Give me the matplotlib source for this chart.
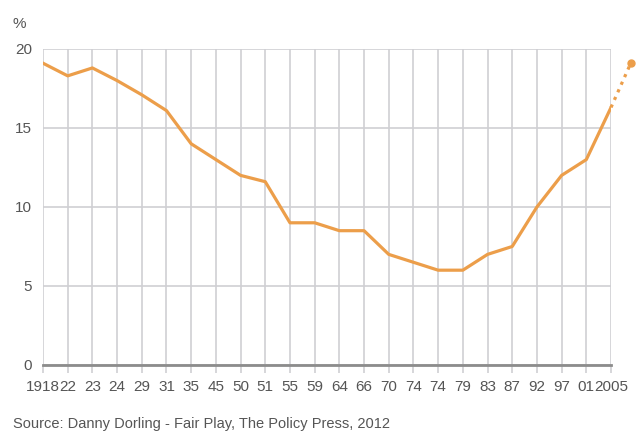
import matplotlib
matplotlib.use("Agg")
import matplotlib.pyplot as plt

plt.rcParams['font.family'] = ['Liberation Sans', 'DejaVu Sans']

years = ["1918", "22", "23", "24", "29", "31", "35", "45", "50", "51", "55", "59",
         "64", "66", "70", "74", "74", "79", "83", "87", "92", "97", "01", "2005"]
share = [19.1, 18.3, 18.8, 18.0, 17.1, 16.1, 14.0, 13.0, 12.0, 11.6, 9.0, 9.0,
         8.5, 8.5, 7.0, 6.5, 6.0, 6.0, 7.0, 7.5, 10.0, 12.0, 13.0, 16.3]
projected_share = 19.1
projection_step = 0.8
y_ticks = [0, 5, 10, 15, 20]
source = "Source: Danny Dorling - Fair Play, The Policy Press, 2012"

line_color = "#EC9E4A"
grid_color = "#CFCFD3"
text_color = "#555555"

fig = plt.figure(figsize=(6.4, 4.37), dpi=100)
ax = fig.add_axes([0.0672, 0.1648, 0.8875, 0.7231])

x = list(range(len(years)))
ax.plot(x, share, color=line_color, lw=2.3, solid_joinstyle="round", zorder=3)

# dotted projection beyond the last year
x_proj = [x[-1], x[-1] + projection_step]
ax.plot(x_proj, [share[-1], projected_share], color=line_color, lw=2.3,
        ls=(0, (1, 1.6)), clip_on=False, zorder=3)
ax.plot([x_proj[-1]], [projected_share], "o", color=line_color, ms=5,
        clip_on=False, zorder=4)

ax.set_xlim(0, len(years) - 1)
ax.set_ylim(0, 20)
ax.set_xticks(x)
ax.set_xticklabels(years)
ax.set_yticks(y_ticks)

ax.grid(True, color=grid_color, lw=1.2)
ax.set_axisbelow(True)
for side in ("top", "right", "left"):
    ax.spines[side].set_visible(False)
ax.spines["bottom"].set_color("#8C8C8C")
ax.spines["bottom"].set_linewidth(2)

ax.tick_params(axis="x", length=6, width=1.2, color=grid_color, pad=5,
               labelsize=11, labelcolor=text_color)
ax.tick_params(axis="y", length=0, pad=8, labelsize=11, labelcolor=text_color)

fig.text(0.02, 0.935, "%", fontsize=11, color=text_color)
fig.text(0.02, 0.02, source, fontsize=10.5, color=text_color)

fig.savefig("out.png", dpi=100)
